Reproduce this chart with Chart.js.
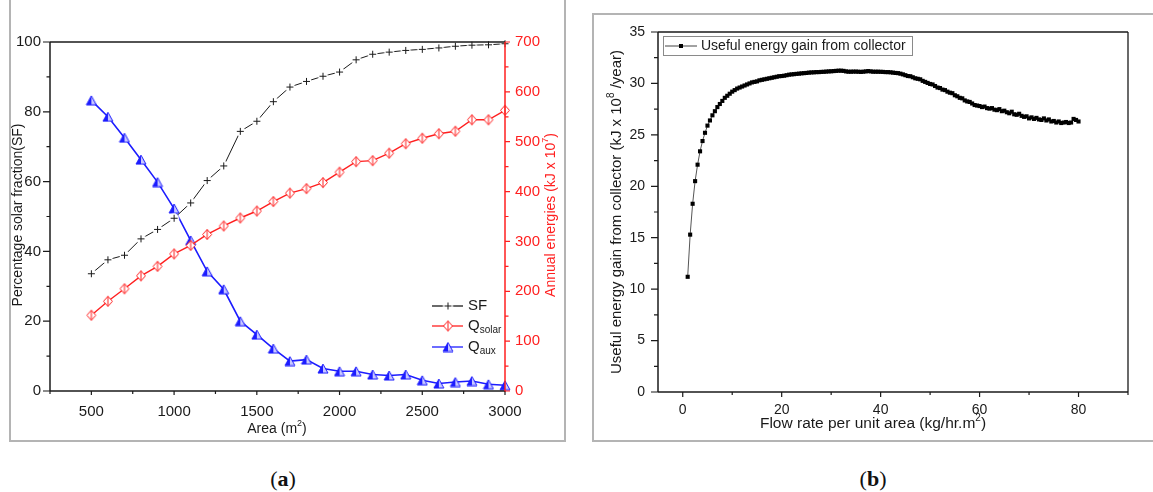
<!DOCTYPE html>
<html>
<head>
<meta charset="utf-8">
<script src="https://cdn.jsdelivr.net/npm/chart.js@4.4.1/dist/chart.umd.min.js"></script>
<style>
  html, body { margin: 0; padding: 0; background: #fff; }
  body { width: 1153px; height: 492px; position: relative; overflow: hidden; }
  .frame { position: absolute; border: 2px solid #b4b4b4; box-sizing: border-box; }
  #frameA { left: 9px; top: -6px; width: 557px; height: 448px; }
  #frameB { left: 592px; top: 13px; width: 600px; height: 429px; }
  canvas { position: absolute; }
  #chartA { left: 0; top: 0; }
  #chartB { left: 593px; top: 14px; }
  .cap { position: absolute; top: 466px; width: 60px; text-align: center;
         font: 22px/26px "Liberation Serif", "DejaVu Serif", serif; color: #111; }
</style>
</head>
<body>
<div class="frame" id="frameA"></div>
<div class="frame" id="frameB"></div>
<canvas id="chartA" width="570" height="450"></canvas>
<canvas id="chartB" width="560" height="430"></canvas>
<div class="cap" style="left:253px">(<b>a</b>)</div>
<div class="cap" style="left:843px">(<b>b</b>)</div>

<script>
// (a) solar fraction and annual energies vs collector area
const AREA = [500, 600, 700, 800, 900, 1000, 1100, 1200, 1300, 1400, 1500, 1600, 1700,
              1800, 1900, 2000, 2100, 2200, 2300, 2400, 2500, 2600, 2700, 2800, 2900, 3000];
const SF = [33.6, 37.6, 38.9, 43.6, 46.3, 49.5, 53.9, 60.3, 64.5, 74.4, 77.3, 82.9, 87.1,
            88.7, 90.2, 91.4, 94.9, 96.5, 97.1, 97.6, 97.9, 98.3, 98.8, 99.1, 99.2, 99.5];
const Q_SOLAR = [152, 180, 205, 231, 250, 275, 292, 314, 331, 347, 361, 380, 397,
                 406, 418, 439, 460, 462, 477, 496, 507, 516, 521, 544, 544, 563];
const Q_AUX = [583, 550, 508, 464, 419, 366, 302, 240, 204, 140, 113, 85, 60,
               63, 45, 39.5, 39.5, 33, 31, 33, 21.5, 15, 18, 20, 13.5, 11.5];

// (b) useful energy gain vs flow rate per unit area
const FLOW = [
  1, 1.5, 2, 2.5, 3, 3.5, 4, 4.5, 5, 5.5, 6, 6.5, 7, 7.5, 8, 8.5, 9, 9.5, 10, 10.5,
  11, 11.5, 12, 12.5, 13, 13.5, 14, 14.5, 15, 15.5, 16, 16.5, 17, 17.5, 18, 18.5, 19, 19.5, 20, 20.5,
  21, 21.5, 22, 22.5, 23, 23.5, 24, 24.5, 25, 25.5, 26, 26.5, 27, 27.5, 28, 28.5, 29, 29.5, 30, 30.5,
  31, 31.5, 32, 32.5, 33, 33.5, 34, 34.5, 35, 35.5, 36, 36.5, 37, 37.5, 38, 38.5, 39, 39.5, 40, 40.5,
  41, 41.5, 42, 42.5, 43, 43.5, 44, 44.5, 45, 45.5, 46, 46.5, 47, 47.5, 48, 48.5, 49, 49.5, 50, 50.5,
  51, 51.5, 52, 52.5, 53, 53.5, 54, 54.5, 55, 55.5, 56, 56.5, 57, 57.5, 58, 58.5, 59, 59.5, 60, 60.5,
  61, 61.5, 62, 62.5, 63, 63.5, 64, 64.5, 65, 65.5, 66, 66.5, 67, 67.5, 68, 68.5, 69, 69.5, 70, 70.5,
  71, 71.5, 72, 72.5, 73, 73.5, 74, 74.5, 75, 75.5, 76, 76.5, 77, 77.5, 78, 78.5, 79, 79.5, 80];
const GAIN = [
  11.2, 15.3, 18.3, 20.5, 22.1, 23.4, 24.4, 25.2, 25.9, 26.4, 26.9, 27.3, 27.7, 28.0, 28.3, 28.6, 28.8, 29.0, 29.2, 29.35,
  29.5, 29.6, 29.7, 29.8, 29.9, 30.0, 30.1, 30.15, 30.2, 30.3, 30.35, 30.4, 30.45, 30.5, 30.55, 30.6, 30.65, 30.7, 30.72, 30.75,
  30.8, 30.85, 30.88, 30.9, 30.93, 30.95, 30.98, 31.0, 31.02, 31.05, 31.07, 31.08, 31.1, 31.1, 31.12, 31.13, 31.15, 31.17, 31.18, 31.2,
  31.22, 31.24, 31.24, 31.22, 31.17, 31.14, 31.14, 31.15, 31.15, 31.14, 31.12, 31.14, 31.17, 31.2, 31.17, 31.14, 31.14, 31.14, 31.13, 31.12,
  31.1, 31.1, 31.08, 31.05, 31.02, 31.0, 30.95, 30.88, 30.8, 30.72, 30.7, 30.6, 30.5, 30.45, 30.4, 30.25, 30.15, 30.05, 29.95, 29.9,
  29.75, 29.6, 29.55, 29.4, 29.35, 29.2, 29.1, 29.05, 28.85, 28.75, 28.6, 28.55, 28.35, 28.25, 28.2, 28.05, 27.9, 27.85, 27.8, 27.7,
  27.75, 27.6, 27.55, 27.6, 27.45, 27.4, 27.5, 27.3, 27.35, 27.2, 27.1, 27.25, 27.0, 26.95, 27.05, 26.85, 26.75, 26.8, 26.6, 26.7,
  26.55, 26.65, 26.5, 26.45, 26.6, 26.4, 26.5, 26.3, 26.35, 26.2, 26.3, 26.15, 26.2, 26.25, 26.15, 26.2, 26.55, 26.45, 26.3];

// tick values
const A_X_MAJOR = [500, 1000, 1500, 2000, 2500, 3000];
const A_X_MINOR = [250, 750, 1250, 1750, 2250, 2750];
const A_Y_MAJOR = [0, 20, 40, 60, 80, 100];
const A_Y_MINOR = [10, 30, 50, 70, 90];
const A_Y2_MAJOR = [0, 100, 200, 300, 400, 500, 600, 700];
const A_Y2_MINOR = [50, 150, 250, 350, 450, 550, 650];
const B_X_MAJOR = [0, 20, 40, 60, 80];
const B_X_MINOR = [10, 30, 50, 70, 90];
const B_Y_MAJOR = [0, 5, 10, 15, 20, 25, 30, 35];
const B_Y_MINOR = [2.5, 7.5, 12.5, 17.5, 22.5, 27.5, 32.5];

const FONT = '"Liberation Sans", Arial, sans-serif';
const RED = "#ff1f1f", BLUE = "#1c1cff", INK = "#1a1a1a";

const pairs = (xs, ys) => xs.map((x, i) => ({ x, y: ys[i] }));

function marker(w, h, draw) {
  const c = document.createElement("canvas");
  c.width = w; c.height = h;
  draw(c.getContext("2d"), w / 2, h / 2);
  return c;
}
const MK = {
  cross: marker(13, 13, (g, cx, cy) => {
    g.fillStyle = "#fff"; g.beginPath(); g.arc(cx, cy, 5, 0, Math.PI * 2); g.fill();
    g.strokeStyle = INK; g.lineWidth = 1; g.beginPath();
    g.moveTo(cx - 3.5, cy); g.lineTo(cx + 3.5, cy);
    g.moveTo(cx, cy - 3.5); g.lineTo(cx, cy + 3.5); g.stroke();
  }),
  diamond: marker(12, 13, (g, cx, cy) => {
    g.beginPath();
    g.moveTo(cx, cy - 5); g.lineTo(cx + 4.5, cy); g.lineTo(cx, cy + 5); g.lineTo(cx - 4.5, cy); g.closePath();
    g.fillStyle = "#fff"; g.fill();
    g.strokeStyle = RED; g.lineWidth = 1; g.stroke();
    g.beginPath(); g.moveTo(cx, cy - 5); g.lineTo(cx, cy + 5); g.stroke();
  }),
  tri: marker(12, 11, (g, cx, cy) => {
    g.beginPath(); g.moveTo(cx, 1); g.lineTo(cx, 10); g.lineTo(1, 10); g.closePath();
    g.fillStyle = BLUE; g.fill();
    g.beginPath(); g.moveTo(cx, 1); g.lineTo(11, 10); g.lineTo(cx, 10); g.closePath();
    g.fillStyle = "#c9c9ff"; g.fill();
    g.beginPath(); g.moveTo(cx, 1); g.lineTo(11, 10); g.lineTo(1, 10); g.closePath();
    g.strokeStyle = BLUE; g.lineWidth = 1; g.stroke();
  }),
};

// ---- drawing helpers (axes, ticks, rich text) ----
function seg(ctx, x1, y1, x2, y2, color, w) {
  ctx.strokeStyle = color; ctx.lineWidth = w;
  ctx.beginPath(); ctx.moveTo(x1, y1); ctx.lineTo(x2, y2); ctx.stroke();
}

function tickMarks(ctx, scale, vals, len, color) {
  ctx.strokeStyle = color; ctx.lineWidth = 1.2; ctx.beginPath();
  for (const v of vals) {
    const p = scale.getPixelForValue(v);
    if (scale.isHorizontal()) { ctx.moveTo(p, scale.top); ctx.lineTo(p, scale.top + len); }
    else if (scale.position === "left") { ctx.moveTo(scale.right, p); ctx.lineTo(scale.right - len, p); }
    else { ctx.moveTo(scale.left, p); ctx.lineTo(scale.left + len, p); }
  }
  ctx.stroke();
}

function tickLabels(ctx, scale, vals, off, color, size) {
  ctx.fillStyle = color; ctx.font = `${size}px ${FONT}`; ctx.textBaseline = "middle";
  for (const v of vals) {
    const p = scale.getPixelForValue(v);
    if (scale.isHorizontal()) { ctx.textAlign = "center"; ctx.fillText(String(v), p, scale.top + off); }
    else if (scale.position === "left") { ctx.textAlign = "right"; ctx.fillText(String(v), scale.right - off, p); }
    else { ctx.textAlign = "left"; ctx.fillText(String(v), scale.left + off, p); }
  }
}

// parts: plain strings or [text, "sup" | "sub"]
function richText(ctx, parts, x, y, size, color, align = "center", rotate = false) {
  const small = Math.round(size * 0.66);
  const items = parts.map((p) => (typeof p === "string" ? { t: p, k: "" } : { t: p[0], k: p[1] }));
  let total = 0;
  for (const it of items) {
    ctx.font = `${it.k ? small : size}px ${FONT}`;
    it.w = ctx.measureText(it.t).width; total += it.w;
  }
  ctx.save();
  ctx.translate(x, y);
  if (rotate) ctx.rotate(-Math.PI / 2);
  ctx.fillStyle = color; ctx.textAlign = "left"; ctx.textBaseline = "middle";
  let cx = align === "center" ? -total / 2 : 0;
  for (const it of items) {
    ctx.font = `${it.k ? small : size}px ${FONT}`;
    const dy = it.k === "sup" ? -size * 0.38 : it.k === "sub" ? size * 0.3 : 0;
    ctx.fillText(it.t, cx, dy);
    cx += it.w;
  }
  ctx.restore();
}

const hiddenScale = (extra) => Object.assign({
  type: "linear",
  ticks: { display: false },
  grid: { display: false },
  border: { display: false },
}, extra);

// ---- chart (a) ----
const decoA = {
  id: "decoA",
  afterDraw(chart) {
    const { ctx, chartArea: ca, scales } = chart;
    ctx.save();
    seg(ctx, ca.left, ca.top, ca.right, ca.top, INK, 1.5);
    seg(ctx, ca.left, ca.top, ca.left, ca.bottom, INK, 1.5);
    seg(ctx, ca.left, ca.bottom, ca.right, ca.bottom, INK, 1.5);
    seg(ctx, ca.right, ca.top, ca.right, ca.bottom + 1, RED, 1.5);

    tickMarks(ctx, scales.x, A_X_MAJOR, 4, INK);
    tickMarks(ctx, scales.x, A_X_MINOR, 3, INK);
    tickMarks(ctx, scales.y, A_Y_MAJOR, 7, INK);
    tickMarks(ctx, scales.y, A_Y_MINOR, 3.5, INK);
    tickMarks(ctx, scales.y2, A_Y2_MAJOR, 5, RED);
    tickMarks(ctx, scales.y2, A_Y2_MINOR, 3.5, RED);

    tickLabels(ctx, scales.x, A_X_MAJOR, 21, INK, 15);
    tickLabels(ctx, scales.y, A_Y_MAJOR, 9, INK, 15);
    tickLabels(ctx, scales.y2, A_Y2_MAJOR, 10, RED, 15);

    richText(ctx, ["Area (m", ["2", "sup"], ")"], 277, 429, 14, INK);
    richText(ctx, ["Percentage solar fraction(SF)"], 18, 215, 14, INK, "center", true);
    richText(ctx, ["Annual energies (kJ x 10", ["7", "sup"], ")"], 551, 215, 14, RED, "center", true);

    // legend
    const rows = [
      { y: 306, color: INK, mk: MK.cross, parts: ["SF"] },
      { y: 326, color: RED, mk: MK.diamond, parts: ["Q", ["solar", "sub"]] },
      { y: 347, color: BLUE, mk: MK.tri, parts: ["Q", ["aux", "sub"]] },
    ];
    for (const r of rows) {
      seg(ctx, 432, r.y, 463, r.y, r.color, 1.3);
      ctx.drawImage(r.mk, 448 - r.mk.width / 2, r.y - r.mk.height / 2);
      richText(ctx, r.parts, 468, r.y, 15, INK, "left");
    }
    ctx.restore();
  },
};

new Chart(document.getElementById("chartA"), {
  type: "line",
  data: {
    datasets: [
      { label: "SF", data: pairs(AREA, SF), yAxisID: "y", borderColor: INK, borderWidth: 1,
        pointStyle: MK.cross, pointRadius: 4, clip: false },
      { label: "Qsolar", data: pairs(AREA, Q_SOLAR), yAxisID: "y2", borderColor: RED, borderWidth: 1.4,
        pointStyle: MK.diamond, pointRadius: 4, clip: false },
      { label: "Qaux", data: pairs(AREA, Q_AUX), yAxisID: "y2", borderColor: BLUE, borderWidth: 1.6,
        pointStyle: MK.tri, pointRadius: 4, clip: false },
    ],
  },
  options: {
    responsive: false, animation: false, devicePixelRatio: 1,
    layout: { padding: { top: 42, left: 0, right: 0, bottom: 0 } },
    plugins: { legend: { display: false }, tooltip: { enabled: false } },
    scales: {
      x: hiddenScale({ position: "bottom", min: 250, max: 3000, afterFit: (s) => { s.height = 59; } }),
      y: hiddenScale({ position: "left", min: 0, max: 100, afterFit: (s) => { s.width = 50; } }),
      y2: hiddenScale({ position: "right", min: 0, max: 700, afterFit: (s) => { s.width = 65; } }),
    },
  },
  plugins: [decoA],
});

// ---- chart (b) ----
const decoB = {
  id: "decoB",
  afterDraw(chart) {
    const { ctx, chartArea: ca, scales } = chart;
    ctx.save();
    seg(ctx, ca.left, ca.top, ca.right, ca.top, INK, 1.3);
    seg(ctx, ca.right, ca.top, ca.right, ca.bottom, INK, 1.3);
    seg(ctx, ca.left, ca.top, ca.left, ca.bottom, INK, 1.5);
    seg(ctx, ca.left, ca.bottom, ca.right, ca.bottom, INK, 1.5);

    tickMarks(ctx, scales.x, B_X_MAJOR, 5, INK);
    tickMarks(ctx, scales.x, B_X_MINOR, 3, INK);
    tickMarks(ctx, scales.y, B_Y_MAJOR, 7, INK);
    tickMarks(ctx, scales.y, B_Y_MINOR, 4, INK);

    tickLabels(ctx, scales.x, B_X_MAJOR, 18, INK, 14);
    tickLabels(ctx, scales.y, B_Y_MAJOR, 13, INK, 14);

    richText(ctx, ["Flow rate per unit area (kg/hr.m", ["2", "sup"], ")"], 280, 410, 15.5, INK);
    richText(ctx, ["Useful energy gain from collector (kJ x 10", ["8", "sup"], " /year)"],
             24, 198, 15, INK, "center", true);

    // legend box
    ctx.strokeStyle = "#8a8a8a"; ctx.lineWidth = 1;
    ctx.strokeRect(70.5, 22.5, 249, 19);
    seg(ctx, 72, 32, 104, 32, "#444", 1);
    ctx.fillStyle = "#000"; ctx.fillRect(86, 30, 4, 4);
    richText(ctx, ["Useful energy gain from collector"], 108, 32, 14, INK, "left");
    ctx.restore();
  },
};

new Chart(document.getElementById("chartB"), {
  type: "line",
  data: {
    datasets: [
      { label: "Useful energy gain from collector", data: pairs(FLOW, GAIN),
        borderColor: "#555", borderWidth: 1, pointStyle: "rect", pointRadius: 2.9,
        pointBackgroundColor: "#000", pointBorderWidth: 0, clip: false },
    ],
  },
  options: {
    responsive: false, animation: false, devicePixelRatio: 1,
    layout: { padding: { top: 18, left: 0, right: 25, bottom: 0 } },
    plugins: { legend: { display: false }, tooltip: { enabled: false } },
    scales: {
      x: hiddenScale({ position: "bottom", min: -5, max: 90, afterFit: (s) => { s.height = 52; } }),
      y: hiddenScale({ position: "left", min: 0, max: 35, afterFit: (s) => { s.width = 65; } }),
    },
  },
  plugins: [decoB],
});
</script>
</body>
</html>
